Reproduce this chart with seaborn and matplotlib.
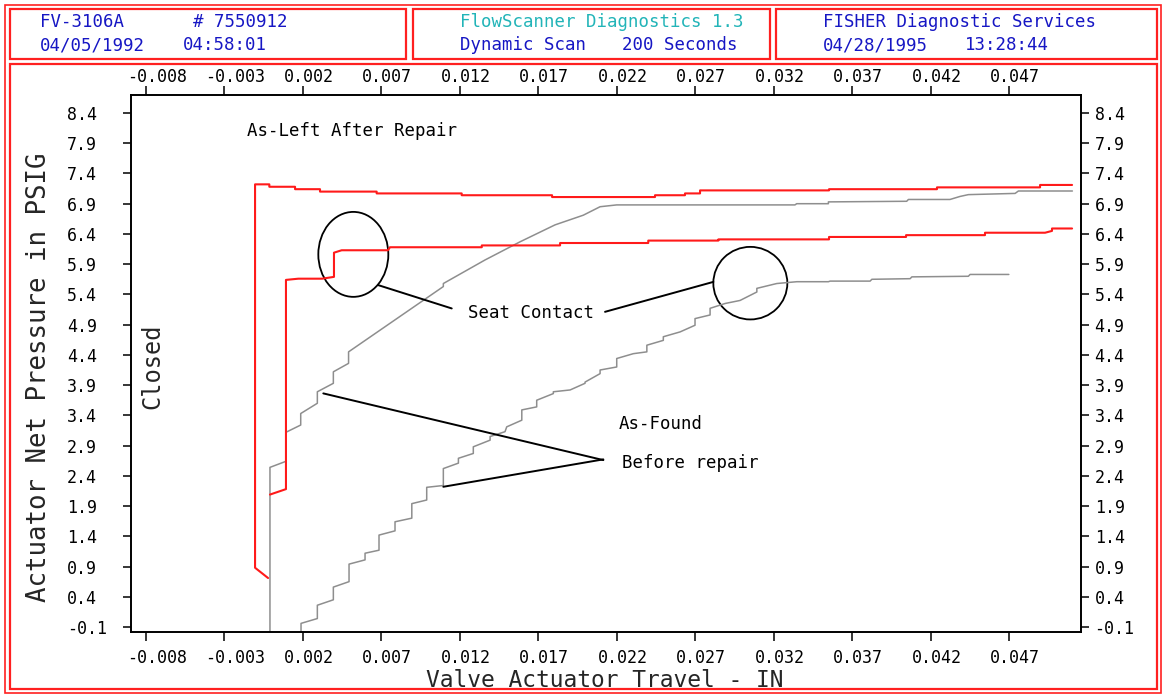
import matplotlib
matplotlib.use("Agg")
import matplotlib.pyplot as plt
import matplotlib.transforms as mtransforms
from matplotlib.patches import Ellipse, Rectangle
import seaborn as sns

# ---------------------------------------------------------------------------
# Valve signature data: actuator travel (IN) vs. net actuator pressure (PSIG)
# ---------------------------------------------------------------------------
# As-Left after repair, upper (opening) stroke
left_upper_travel = [-0.00022, -0.00105, -0.00105, -0.00014, -0.00014, 0.00150, 0.00150,
                     0.00309, 0.00309, 0.00670, 0.00670, 0.01212, 0.01212, 0.01788,
                     0.01788, 0.02444, 0.02444, 0.02635, 0.02635, 0.02731, 0.02731,
                     0.03553, 0.03553, 0.04241, 0.04241, 0.04898, 0.04898, 0.05102]
left_upper_psig = [0.71, 0.88, 7.22, 7.22, 7.18, 7.18, 7.14, 7.14, 7.10, 7.10, 7.07, 7.07,
                   7.04, 7.04, 7.01, 7.01, 7.04, 7.04, 7.07, 7.07, 7.12, 7.12, 7.14, 7.14,
                   7.17, 7.17, 7.21, 7.21]

# As-Left after repair, lower stroke
left_lower_travel = [-0.00010, 0.00092, 0.00092, 0.00171, 0.00322, 0.00398, 0.00398,
                     0.00447, 0.00742, 0.00755, 0.01340, 0.01340, 0.01839, 0.01839,
                     0.02401, 0.02401, 0.02848, 0.02848, 0.03553, 0.03553, 0.04044,
                     0.04044, 0.04547, 0.04547, 0.04930, 0.04974, 0.04974, 0.05102]
left_lower_psig = [2.09, 2.18, 5.64, 5.66, 5.66, 5.69, 6.09, 6.13, 6.13, 6.18, 6.18, 6.21,
                   6.21, 6.25, 6.25, 6.29, 6.29, 6.31, 6.31, 6.35, 6.35, 6.38, 6.38, 6.42,
                   6.42, 6.45, 6.49, 6.49]

# As-Found before repair, upper stroke
found_upper_travel = [-0.00010, -0.00010, 0.00092, 0.00092, 0.00186, 0.00186, 0.00292,
                      0.00292, 0.00394, 0.00394, 0.00491, 0.00491, 0.01095, 0.01095,
                      0.01361, 0.01584, 0.01807, 0.01987, 0.02094, 0.02200, 0.03336,
                      0.03347, 0.03549, 0.03549, 0.04048, 0.04059, 0.04324, 0.04388,
                      0.04441, 0.04739, 0.04760, 0.05104]
found_upper_psig = [-0.30, 2.54, 2.64, 3.12, 3.24, 3.43, 3.60, 3.79, 3.93, 4.12, 4.26, 4.45,
                    5.53, 5.58, 5.97, 6.27, 6.55, 6.71, 6.85, 6.88, 6.88, 6.90, 6.90, 6.93,
                    6.94, 6.97, 6.97, 7.02, 7.05, 7.07, 7.11, 7.11]

# As-Found before repair, lower stroke
found_lower_travel = [0.00188, 0.00188, 0.00292, 0.00292, 0.00394, 0.00394, 0.00494, 0.00494,
                      0.00596, 0.00596, 0.00685, 0.00685, 0.00787, 0.00787, 0.00894, 0.00894,
                      0.00989, 0.00989, 0.01095, 0.01095, 0.01191, 0.01191, 0.01286, 0.01286,
                      0.01393, 0.01393, 0.01488, 0.01499, 0.01595, 0.01595, 0.01690, 0.01690,
                      0.01796, 0.01796, 0.01903, 0.01998, 0.01998, 0.02094, 0.02094, 0.02200,
                      0.02200, 0.02306, 0.02392, 0.02392, 0.02497, 0.02497, 0.02604, 0.02699,
                      0.02699, 0.02795, 0.02795, 0.02891, 0.02986, 0.03093, 0.03093, 0.03220,
                      0.03348, 0.03549, 0.03560, 0.03815, 0.03826, 0.04070, 0.04081, 0.04441,
                      0.04452, 0.04699]
found_lower_psig = [-0.30, -0.04, 0.04, 0.26, 0.35, 0.56, 0.65, 0.94, 1.01, 1.12,
                    1.17, 1.42, 1.49, 1.64, 1.70, 1.94, 2.00, 2.21, 2.24, 2.52,
                    2.61, 2.69, 2.77, 2.88, 2.99, 3.05, 3.13, 3.21, 3.32, 3.49,
                    3.54, 3.65, 3.76, 3.79, 3.82, 3.93, 3.95, 4.09, 4.15, 4.20,
                    4.34, 4.42, 4.45, 4.56, 4.64, 4.70, 4.78, 4.89, 5.00, 5.06,
                    5.17, 5.25, 5.30, 5.44, 5.50, 5.58, 5.61, 5.61, 5.62, 5.62,
                    5.65, 5.66, 5.69, 5.70, 5.73, 5.73]

x_ticks = [-0.008, -0.003, 0.002, 0.007, 0.012, 0.017, 0.022, 0.027, 0.032, 0.037, 0.042, 0.047]
x_tick_labels = ["-0.008", "-0.003", "0.002", "0.007", "0.012", "0.017",
                 "0.022", "0.027", "0.032", "0.037", "0.042", "0.047"]
y_ticks = [-0.1, 0.4, 0.9, 1.4, 1.9, 2.4, 2.9, 3.4, 3.9, 4.4, 4.9, 5.4, 5.9, 6.4, 6.9, 7.4, 7.9, 8.4]
y_tick_labels = ["-0.1", "0.4", "0.9", "1.4", "1.9", "2.4", "2.9", "3.4", "3.9",
                 "4.4", "4.9", "5.4", "5.9", "6.4", "6.9", "7.4", "7.9", "8.4"]

header_left = ["FV-3106A", "# 7550912", "04/05/1992", "04:58:01"]
header_mid = ["FlowScanner Diagnostics 1.3", "Dynamic Scan", "200 Seconds"]
header_right = ["FISHER Diagnostic Services", "04/28/1995", "13:28:44"]

# ---------------------------------------------------------------------------
sns.set_style("white")
plt.rcParams["font.family"] = ["DejaVu Sans Mono"]

W, H = 1164, 696
fig = plt.figure(figsize=(W / 100, H / 100), dpi=100)
fig.patch.set_facecolor("white")

RED = "#ff2020"
TRACE_RED = "#ff1a1a"
GRAY = "#8e8e8e"
BLUE = "#1616c4"
CYAN = "#22b4b8"


def fx(px):
    return px / W


def fy(py):
    return 1 - py / H


def frame_box(x0, y0, x1, y1, lw=1.6):
    fig.add_artist(Rectangle((fx(x0), fy(y1)), fx(x1) - fx(x0), fy(y0) - fy(y1),
                             transform=fig.transFigure, fill=False, ec=RED, lw=lw))


# outer border and the four panels
frame_box(5, 5, 1161, 693, lw=1.2)
frame_box(10, 9, 406, 59)
frame_box(413, 9, 770, 59)
frame_box(776, 9, 1157, 59)
frame_box(10, 64, 1157, 689)

hdr = dict(fontsize=12.5, ha="left", va="center")
fig.text(fx(40), fy(22), header_left[0], color=BLUE, **hdr)
fig.text(fx(193), fy(22), header_left[1], color=BLUE, **hdr)
fig.text(fx(40), fy(45), header_left[2], color=BLUE, **hdr)
fig.text(fx(183), fy(45), header_left[3], color=BLUE, **hdr)
fig.text(fx(460), fy(22), header_mid[0], color=CYAN, **hdr)
fig.text(fx(460), fy(45), header_mid[1], color=BLUE, **hdr)
fig.text(fx(622), fy(45), header_mid[2], color=BLUE, **hdr)
fig.text(fx(823), fy(22), header_right[0], color=BLUE, **hdr)
fig.text(fx(823), fy(45), header_right[1], color=BLUE, **hdr)
fig.text(fx(965), fy(45), header_right[2], color=BLUE, **hdr)

# plot area
ax = fig.add_axes([fx(131), fy(632), fx(1081) - fx(131), fy(95) - fy(632)])
ax.set_facecolor("white")

traces = [
    (found_upper_travel, found_upper_psig, GRAY, 1.1),
    (found_lower_travel, found_lower_psig, GRAY, 1.1),
    (left_upper_travel, left_upper_psig, TRACE_RED, 1.5),
    (left_lower_travel, left_lower_psig, TRACE_RED, 1.5),
]
for trav, psig, col, lw in traces:
    sns.lineplot(x=trav, y=psig, sort=False, estimator=None, color=col,
                 linewidth=lw, ax=ax)

ax.set_xlim(-0.008956, 0.051589)
ax.set_ylim(-0.1826, 8.6975)

ax.set_xticks(x_ticks)
ax.set_xticklabels(x_tick_labels)
ax.set_yticks(y_ticks)
ax.set_yticklabels(y_tick_labels)

for sp in ax.spines.values():
    sp.set_visible(True)
    sp.set_color("black")
    sp.set_linewidth(1.4)

ax.tick_params(axis="x", which="major", bottom=True, top=True, labelbottom=True,
               labeltop=True, direction="out", length=6.5, width=1.1, pad=3,
               labelsize=12, colors="black")
ax.tick_params(axis="y", which="major", left=True, right=True, labelleft=True,
               labelright=True, direction="out", length=5.8, width=1.1, pad=4,
               labelsize=12, colors="black")

ax.set_xlabel("Valve Actuator Travel - IN", fontsize=16.5, va="center")
ax.xaxis.set_label_coords(0.499, -0.0894)
ax.set_ylabel("Actuator Net Pressure in PSIG", fontsize=18.5, va="center")
ax.yaxis.set_label_coords(-0.0968, 0.474)

# annotations
note = dict(fontsize=12.5, color="black", va="center", ha="left")
ax.text(-0.00158, 8.10, "As-Left After Repair", **note)
ax.text(0.01254, 5.10, "Seat Contact", **note)
ax.text(0.02210, 3.25, "As-Found", **note)
ax.text(0.02232, 2.62, "Before repair", **note)
ax.text(-0.00759, 4.21, "Closed", fontsize=17, rotation=90, ha="center", va="center")

ax.add_patch(Ellipse((0.005213, 6.062), 0.004462, 1.405, fill=False, ec="black", lw=1.3))
ax.add_patch(Ellipse((0.030515, 5.586), 0.004716, 1.200, fill=False, ec="black", lw=1.3))

callouts = [
    ((0.006806, 5.553), (0.011484, 5.168)),
    ((0.021255, 5.112), (0.028157, 5.607)),
    ((0.003300, 3.763), (0.021146, 2.660)),
    ((0.010949, 2.219), (0.021146, 2.672)),
]
for (x0, y0), (x1, y1) in callouts:
    ax.plot([x0, x1], [y0, y1], color="black", lw=1.4)

# tick label placement: x labels start slightly left of their tick,
# left y labels are left-justified in a column
fig.canvas.draw()
shift_x = mtransforms.ScaledTranslation(-0.19, -0.04, fig.dpi_scale_trans)
for tick in ax.xaxis.get_major_ticks():
    for lab in (tick.label1, tick.label2):
        lab.set_horizontalalignment("left")
        lab.set_transform(lab.get_transform() + shift_x)
shift_y = mtransforms.ScaledTranslation(-0.505, 0, fig.dpi_scale_trans)
for tick in ax.yaxis.get_major_ticks():
    tick.label1.set_horizontalalignment("left")
    tick.label1.set_transform(tick.label1.get_transform() + shift_y)

fig.savefig("out.png", dpi=100, facecolor="white")
